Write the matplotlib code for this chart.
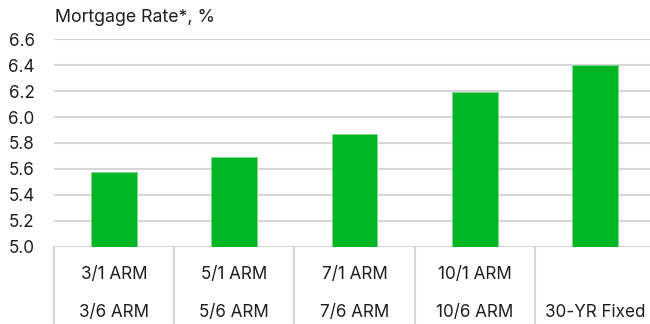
import matplotlib
matplotlib.use("Agg")
import matplotlib.pyplot as plt

# values
categories = ["3/1 ARM", "5/1 ARM", "7/1 ARM", "10/1 ARM", ""]
categories_2 = ["3/6 ARM", "5/6 ARM", "7/6 ARM", "10/6 ARM", "30-YR Fixed"]
rates = [5.58, 5.69, 5.87, 6.19, 6.40]
yticks = [5.0, 5.2, 5.4, 5.6, 5.8, 6.0, 6.2, 6.4, 6.6]

plt.rcParams['font.family'] = ['Inter', 'DejaVu Sans']

fig = plt.figure(figsize=(6.5, 3.24), dpi=100)
ax = fig.add_axes([0.0831, 0.2377, 0.9246, 0.6419])

grid_col = '#d6d6d6'
x = list(range(len(rates)))
ax.bar(x, rates, width=0.38, color='#00b624', edgecolor='#7ed98f',
       linewidth=0.6, zorder=3, bottom=0)
ax.set_ylim(5.0, 6.6)
ax.set_xlim(-0.5, len(rates) - 0.5)
ax.set_yticks(yticks)
ax.set_yticklabels([f"{v:.1f}" for v in yticks])
for v in yticks:
    ax.axhline(v, color=grid_col, linewidth=1.5, zorder=1)

for s in ax.spines.values():
    s.set_visible(False)
ax.tick_params(axis='y', length=0, pad=14, labelsize=12.3, labelcolor='#1e1e1e')
ax.set_xticks([])

# table-like category labels
trans = ax.get_xaxis_transform()
for i in range(len(rates) + 1):
    ax.plot([i - 0.5, i - 0.5], [0, -0.38], transform=trans, color=grid_col,
            linewidth=1.5, clip_on=False)
for i in x:
    ax.text(i, -0.13, categories[i], transform=trans, ha='center', va='center',
            fontsize=12.3, color='#1e1e1e')
    ax.text(i, -0.315, categories_2[i], transform=trans, ha='center', va='center',
            fontsize=12.3, color='#1e1e1e')

fig.text(55 / 650, 1 - 17 / 324, "Mortgage Rate*, %", ha='left', va='center',
         fontsize=12.8, color='#1e1e1e')

fig.savefig("out.png", dpi=100)
